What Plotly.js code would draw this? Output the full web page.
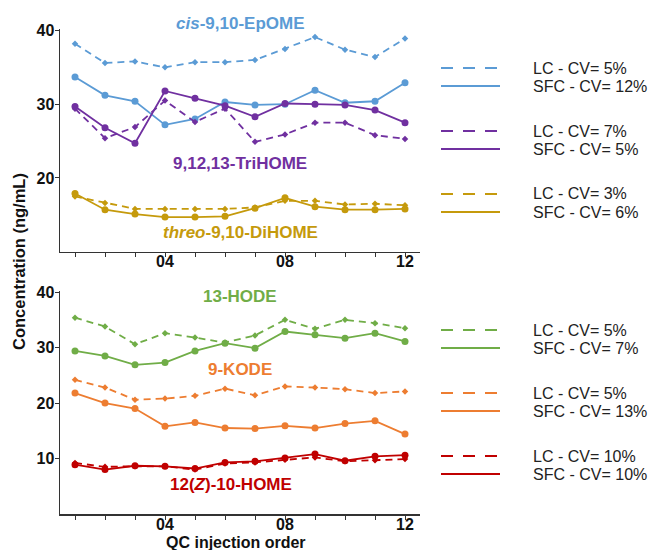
<!DOCTYPE html>
<html>
<head>
<meta charset="utf-8">
<script src="https://cdn.plot.ly/plotly-3.0.1.min.js"></script>
<style>html,body{margin:0;padding:0;background:#fff;}#chart{width:655px;height:550px;}</style>
</head>
<body>
<div id="chart"></div>
<script>
const order = [1,2,3,4,5,6,7,8,9,10,11,12];
const tickLabels = ['', '', '', '04', '', '', '', '08', '', '', '', '12'];

// Top panel
const epomeLC  = [38.2, 35.6, 35.8, 35.0, 35.7, 35.7, 36.0, 37.5, 39.1, 37.4, 36.4, 38.9];
const epomeSFC = [33.7, 31.2, 30.4, 27.2, 28.0, 30.3, 29.9, 30.0, 31.9, 30.2, 30.4, 32.9];
const trihomeLC  = [29.4, 25.4, 26.9, 30.5, 27.6, 29.4, 24.9, 25.9, 27.5, 27.5, 25.8, 25.3];
const trihomeSFC = [29.7, 26.8, 24.7, 31.8, 30.8, 29.8, 28.3, 30.1, 30.0, 29.9, 29.2, 27.5];
const dihomeLC  = [17.5, 16.6, 15.8, 15.8, 15.8, 15.8, 16.0, 16.9, 16.9, 16.4, 16.5, 16.3];
const dihomeSFC = [17.9, 15.7, 15.1, 14.7, 14.7, 14.8, 15.9, 17.3, 16.1, 15.7, 15.7, 15.8];

// Bottom panel
const hodeLC  = [35.4, 33.8, 30.6, 32.6, 31.8, 30.9, 32.2, 35.0, 33.4, 35.0, 34.4, 33.5];
const hodeSFC = [29.4, 28.5, 26.9, 27.3, 29.4, 30.8, 29.9, 32.9, 32.3, 31.7, 32.6, 31.1];
const kodeLC  = [24.2, 22.8, 20.6, 20.8, 21.3, 22.6, 21.4, 23.0, 22.8, 22.5, 21.8, 22.1];
const kodeSFC = [21.8, 20.0, 19.0, 15.8, 16.5, 15.5, 15.4, 15.9, 15.5, 16.3, 16.8, 14.4];
const homeLC  = [9.2, 8.5, 8.6, 8.6, 8.0, 9.1, 9.3, 9.8, 10.2, 9.5, 9.7, 9.9];
const homeSFC = [8.9, 8.0, 8.7, 8.6, 8.2, 9.3, 9.5, 10.1, 10.8, 9.6, 10.4, 10.6];

const compoundNames = ['<i>cis</i>-9,10-EpOME', '9,12,13-TriHOME', '<i>threo</i>-9,10-DiHOME',
                       '13-HODE', '9-KODE', '12(<i>Z</i>)-10-HOME'];
const colors = ['#5B9BD5', '#7030A0', '#C59A0C', '#70AD47', '#ED7D31', '#C00000'];
const cvLC  = ['5%', '7%', '3%', '5%', '5%', '10%'];
const cvSFC = ['12%', '5%', '6%', '7%', '13%', '10%'];

const series = [
  [epomeLC, epomeSFC, 'y'], [trihomeLC, trihomeSFC, 'y'], [dihomeLC, dihomeSFC, 'y'],
  [hodeLC, hodeSFC, 'y2'], [kodeLC, kodeSFC, 'y2'], [homeLC, homeSFC, 'y2']
];

const traces = [];
series.forEach((s, i) => {
  const xa = s[2] === 'y' ? 'x' : 'x2';
  traces.push({x: order, y: s[0], xaxis: xa, yaxis: s[2], mode: 'lines+markers', showlegend: false,
    line: {color: colors[i], width: 1.8, dash: '7px,5px'}, marker: {color: colors[i], size: 5, symbol: 'diamond'}});
  traces.push({x: order, y: s[1], xaxis: xa, yaxis: s[2], mode: 'lines+markers', showlegend: false,
    line: {color: colors[i], width: 1.8}, marker: {color: colors[i], size: 7, symbol: 'circle'}});
});

const PB = 514, PH = 489;
const py = px => (PB - px) / PH;
const pxX = px => (px - 60) / 360;

const namePos = [[240, 24], [240, 163], [240, 233], [240, 296], [240, 370], [231, 484]];
const legendY = [[68, 86], [131, 149], [194, 212], [330, 348], [393, 411], [456, 474]];

const annotations = [];
const shapes = [];
compoundNames.forEach((n, i) => {
  annotations.push({text: n, xref: 'paper', yref: 'paper', x: pxX(namePos[i][0]), y: py(namePos[i][1]),
    xanchor: 'center', yanchor: 'middle', showarrow: false,
    font: {family: 'Liberation Sans, Arial', size: 17, color: colors[i], weight: 'bold'}});
  const ly = legendY[i];
  shapes.push({type: 'line', xref: 'paper', yref: 'paper', x0: pxX(441), x1: pxX(500), y0: py(ly[0]), y1: py(ly[0]),
    line: {color: colors[i], width: 2, dash: '12px,10px'}});
  shapes.push({type: 'line', xref: 'paper', yref: 'paper', x0: pxX(441), x1: pxX(500), y0: py(ly[1]), y1: py(ly[1]),
    line: {color: colors[i], width: 2}});
  annotations.push({text: 'LC - CV= ' + cvLC[i], xref: 'paper', yref: 'paper', x: pxX(531), y: py(ly[0]),
    xanchor: 'left', yanchor: 'middle', showarrow: false, font: {family: 'Liberation Sans, Arial', size: 16, color: '#222'}});
  annotations.push({text: 'SFC - CV= ' + cvSFC[i], xref: 'paper', yref: 'paper', x: pxX(531), y: py(ly[1]),
    xanchor: 'left', yanchor: 'middle', showarrow: false, font: {family: 'Liberation Sans, Arial', size: 16, color: '#222'}});
});

annotations.push({text: 'Concentration (ng/mL)', xref: 'paper', yref: 'paper', x: pxX(19), y: py(262),
  xanchor: 'center', yanchor: 'middle', showarrow: false, textangle: -90,
  font: {family: 'Liberation Sans, Arial', size: 16.5, color: '#111', weight: 'bold'}});
annotations.push({text: 'QC injection order', xref: 'paper', yref: 'paper', x: pxX(236), y: py(542),
  xanchor: 'center', yanchor: 'middle', showarrow: false,
  font: {family: 'Liberation Sans, Arial', size: 16, color: '#111', weight: 'bold'}});

const tickFont = {family: 'Liberation Sans, Arial', size: 16, color: '#111', weight: 'bold'};
const xBase = {range: [0.5, 12.5], tickmode: 'array', tickvals: order, ticktext: tickLabels, ticks: 'outside',
  ticklen: 4, tickcolor: '#333', showline: true, linecolor: '#333', linewidth: 1.5, showgrid: false, zeroline: false,
  tickfont: tickFont, ticklabelstandoff: -9};
const yBase = {ticks: 'outside', ticklen: 4, tickcolor: '#333', showline: true, linecolor: '#333', linewidth: 1.5,
  showgrid: false, zeroline: false, tickfont: tickFont, tickmode: 'array', ticklabelstandoff: -3};

const layout = {
  width: 655, height: 550,
  margin: {l: 60, r: 235, t: 25, b: 36},
  paper_bgcolor: '#fff', plot_bgcolor: '#fff',
  showlegend: false,
  xaxis: Object.assign({}, xBase, {anchor: 'y', domain: [0, 1]}),
  xaxis2: Object.assign({}, xBase, {anchor: 'y2', domain: [0, 1]}),
  yaxis: Object.assign({}, yBase, {anchor: 'x', domain: [py(251.7), py(29)], range: [10, 40.2], tickvals: [20, 30, 40]}),
  yaxis2: Object.assign({}, yBase, {anchor: 'x2', domain: [0, py(291)], range: [0, 40.2], tickvals: [10, 20, 30, 40]}),
  annotations: annotations,
  shapes: shapes
};

Plotly.newPlot('chart', traces, layout, {displayModeBar: false, staticPlot: true});
</script>
</body>
</html>
